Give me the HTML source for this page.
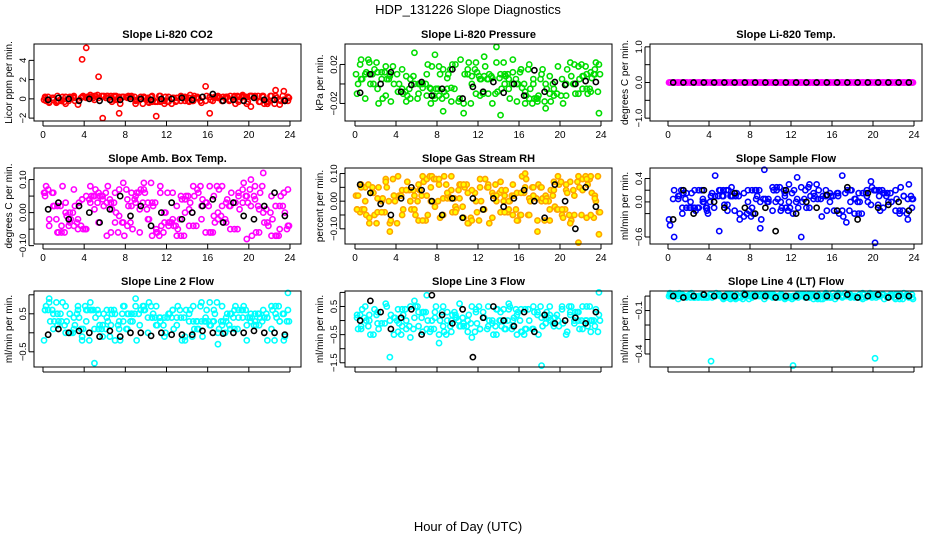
<!DOCTYPE html>
<html><head><meta charset="utf-8"><style>
body{margin:0;background:#fff}
svg{display:block;font-family:"Liberation Sans",sans-serif}
</style></head><body>
<svg id="c" width="936" height="540">
<text x="468" y="14" font-size="13" text-anchor="middle">HDP_131226  Slope Diagnostics</text>
<text x="468" y="531" font-size="13" text-anchor="middle">Hour of Day (UTC)</text>
</svg>
<script>
const hourTicks=[0,4,8,12,16,20,24];
const co2=[0.2,-0.3,0.1,0.3,-0.2,-0.5,0.2,0.3,-0.6,4.1,5.3,0.2,-0.1,2.3,-2.0,0.1,0.3,-0.1,-1.5,0.2,0.1,0.3,-0.2,-0.1,0.2,0.1,-0.3,-1.8,0.3,-0.2,0.2,0.1,-0.2,0.3,0.2,-0.3,0.1,0.2,-0.4,1.3,-1.5,0.1,0.3,-0.2,0.2,-0.1,0.3,-0.3,0.4,-0.5,-0.8,0.2,-0.3,0.2,-0.5,0.3,0.9,-0.6,0.8,-0.2];
const co2K=[-0.1,0.1,0.0,-0.2,0.0,-0.2,-0.1,-0.1,0.0,0.0,-0.1,0.0,0.0,0.1,-0.1,0.2,0.5,-0.2,-0.1,-0.2,0.1,-0.1,-0.1,-0.2];
const pres=[-0.01,0.005,-0.015,0.01,0.0,-0.005,0.012,-0.012,0.008,0.0,-0.008,0.015,-0.018,0.005,0.032,-0.01,0.0,0.01,-0.02,0.03,0.018,-0.028,0.006,-0.004,0.02,-0.015,-0.03,0.01,0.0,0.022,-0.012,0.028,0.005,-0.02,0.038,-0.032,0.01,-0.005,0.025,-0.018,0.015,-0.008,0.02,0.0,-0.015,0.01,-0.025,0.008,-0.005,0.018,0.005,-0.012,0.022,0.0,-0.01,0.008,-0.005,0.012,0.015,-0.03];
const presK=[-0.009,0.01,0.0,0.012,-0.008,-0.001,0.002,-0.012,-0.005,0.015,-0.015,-0.003,-0.008,0.002,-0.009,0.0,-0.012,0.014,-0.008,0.002,-0.001,0.0,0.003,0.002];
const temp=[0,0,0,0,0,0,0,0,0,0,0,0,0,0,0,0,0,0,0,0,0,0,0,0,0,0,0,0,0,0,0,0,0,0,0,0,0,0,0,0,0,0,0,0,0,0,0,0,0,0,0,0,0,0,0,0,0,0,0,0];
const tempK=[0,0,0,0,0,0,0,0,0,0,0,0,0,0,0,0,0,0,0,0,0,0,0,0];
const amb=[0.05,-0.04,0.06,0.02,-0.06,0.03,0.0,0.07,-0.02,0.04,-0.05,0.08,0.01,-0.03,0.05,-0.07,0.03,0.06,-0.01,0.09,-0.04,0.02,0.05,-0.06,0.07,-0.02,0.03,-0.05,0.08,0.0,-0.03,0.06,0.02,-0.07,0.04,0.01,-0.04,0.07,-0.02,0.03,-0.06,0.05,0.0,0.08,-0.03,0.02,-0.05,0.06,0.03,-0.08,0.1,0.04,-0.06,0.12,-0.03,0.05,-0.07,0.02,0.06,-0.04];
const ambK=[0.01,0.03,-0.02,0.02,0.0,-0.03,0.01,0.05,-0.01,0.02,-0.04,0.0,0.03,-0.02,0.0,0.02,0.04,-0.03,0.03,-0.01,-0.02,0.02,0.06,-0.01];
const rh=[-0.03,0.05,0.0,-0.06,0.03,0.01,-0.04,0.07,-0.11,0.02,0.09,-0.05,0.04,0.0,-0.03,0.06,-0.07,0.02,0.05,-0.02,0.08,-0.05,0.03,0.09,-0.04,0.01,0.06,-0.08,0.04,0.0,0.08,-0.03,0.05,-0.06,0.02,0.07,-0.04,0.0,0.06,-0.07,0.03,0.1,-0.05,0.02,-0.11,0.05,0.0,-0.07,0.04,0.09,-0.03,0.06,-0.08,0.02,-0.15,0.04,0.08,-0.05,0.01,-0.12];
const rhK=[0.06,0.03,-0.01,-0.05,0.01,0.05,0.04,0.0,-0.05,0.01,-0.06,0.01,-0.03,0.01,-0.02,0.01,0.04,0.0,-0.06,0.06,0.0,-0.1,0.05,-0.02];
const flow=[-0.4,-0.6,0.1,-0.2,0.15,0.0,-0.1,0.2,0.05,-0.15,0.1,0.45,-0.5,0.2,-0.05,0.25,0.1,-0.3,0.15,0.0,-0.1,0.2,-0.45,0.55,0.05,-0.15,0.25,0.0,0.1,0.3,-0.2,0.42,-0.6,0.2,-0.1,0.15,0.05,-0.25,0.2,0.0,-0.15,0.1,0.45,-0.35,0.2,0.05,-0.2,0.15,0.1,0.35,-0.7,0.2,-0.1,0.15,0.0,0.2,-0.15,0.1,0.05,-0.1];
const flowK=[-0.3,0.2,-0.2,0.2,0.0,-0.1,0.15,-0.1,-0.2,-0.1,-0.5,0.2,-0.2,0.0,-0.1,0.12,-0.15,0.25,-0.3,0.15,-0.1,-0.05,0.0,-0.15];
const line2=[0.6,0.9,0.1,0.5,0.3,0.7,0.0,0.4,0.6,-0.1,0.3,0.8,-0.8,0.5,0.2,0.4,0.6,-0.2,0.3,0.7,0.1,0.5,0.9,0.2,0.6,0.0,0.4,0.7,0.3,-0.1,0.5,0.6,0.2,0.4,-0.2,0.5,0.3,0.1,0.8,0.4,0.2,0.6,-0.3,0.7,0.3,0.5,0.1,0.4,0.6,-0.2,0.3,0.5,0.2,0.6,0.4,0.1,0.7,0.3,0.5,1.05];
const line2K=[-0.05,0.1,0.0,0.05,0.0,-0.1,0.05,-0.1,0.0,0.0,-0.08,0.0,-0.05,-0.05,-0.05,0.05,0.0,-0.02,0.0,0.0,0.05,0.0,0.0,-0.05];
const line3=[0.2,-0.3,0.5,0.0,-0.5,0.3,-0.1,0.6,-1.3,0.1,-0.4,0.4,0.0,-0.6,0.7,-0.2,0.3,0.9,-0.3,0.1,-0.8,0.5,0.0,-0.4,0.2,0.6,-0.2,0.0,-0.6,0.4,-0.3,0.1,0.5,-0.1,-0.5,0.3,0.0,0.6,-0.2,0.2,-0.4,0.4,0.0,-0.3,0.3,-1.6,0.1,0.5,-0.2,0.0,0.4,-0.5,0.2,-0.1,0.3,-0.3,0.5,0.0,-0.2,1.0];
const line3K=[0.0,0.7,0.3,-0.3,0.1,0.4,-0.5,0.9,0.2,-0.1,0.4,-1.3,0.1,0.5,0.0,-0.2,0.3,-0.4,0.2,-0.1,0.0,0.1,-0.1,0.3];
const line4=[0.02,0.0,-0.02,0.01,0.0,0.01,-0.01,0.0,0.01,-0.01,-0.45,0.0,0.01,-0.01,0.0,0.01,-0.01,0.0,0.02,0.0,-0.01,0.01,0.0,-0.02,0.01,0.0,-0.01,0.01,0.0,-0.01,-0.48,0.01,0.0,-0.01,0.0,0.01,-0.02,0.0,0.01,-0.01,0.0,0.01,-0.01,0.0,0.01,0.0,-0.01,-0.02,0.0,0.01,-0.43,0.0,0.01,-0.01,0.0,0.01,-0.02,0.02,0.0,-0.01];
const line4K=[0.0,-0.01,0.0,0.01,0.0,0.0,0.0,0.01,0.0,0.0,-0.01,0.0,0.0,-0.01,0.0,0.0,0.0,0.01,-0.01,0.0,0.01,-0.01,0.0,0.0];

const colX=[[34,301,43,290],[345,612,355,601],[650,922,668,914]];
const rowY=[[44,121],[168,244],[291,367]];
const panels=[
 {t:"Slope Li-820 CO2",yl:"Licor ppm per min.",d:co2,k:co2K,c:"#ff0000",lo:-0.5,hi:0.5,y0:-2.3,y1:5.7,ticks:[-2,0,2,4],labs:["−2","0","2","4"]},
 {t:"Slope Li-820 Pressure",yl:"kPa per min.",d:pres,k:presK,c:"#00dd00",lo:-0.022,hi:0.025,y0:-0.038,y1:0.041,ticks:[-0.02,0,0.02],labs:["−0.02","","0.02"]},
 {t:"Slope Li-820 Temp.",yl:"degrees C per min.",d:temp,k:tempK,c:"#ff00ff",lo:-1,hi:1,y0:-1.08,y1:1.08,ticks:[-1,-0.5,0,0.5,1],labs:["−1.0","","0.0","","1.0"]},
 {t:"Slope Amb. Box Temp.",yl:"degrees C per min.",d:amb,k:ambK,c:"#ff00ff",lo:-0.07,hi:0.09,y0:-0.095,y1:0.135,ticks:[-0.1,-0.05,0,0.05,0.1],labs:["−0.10","","0.00","","0.10"]},
 {t:"Slope Gas Stream RH",yl:"percent per min.",d:rh,k:rhK,c:"#ffa500",lo:-0.09,hi:0.09,y0:-0.155,y1:0.12,ticks:[-0.1,-0.05,0,0.05,0.1],labs:["−0.10","","0.00","","0.10"]},
 {t:"Slope Sample Flow",yl:"ml/min per min.",d:flow,k:flowK,c:"#0000ff",lo:-0.3,hi:0.3,y0:-0.72,y1:0.58,ticks:[-0.6,-0.2,0,0.2,0.4],labs:["−0.6","","0.0","","0.4"]},
 {t:"Slope Line 2 Flow",yl:"ml/min per min.",d:line2,k:line2K,c:"#00ffff",lo:-0.2,hi:0.8,y0:-0.9,y1:1.1,ticks:[-0.5,0,0.5,1],labs:["−0.5","","0.5",""]},
 {t:"Slope Line 3 Flow",yl:"ml/min per min.",d:line3,k:line3K,c:"#00ffff",lo:-0.5,hi:0.5,y0:-1.65,y1:1.05,ticks:[-1.5,-1,-0.5,0,0.5,1],labs:["−1.5","","−0.5","","0.5",""]},
 {t:"Slope Line 4 (LT) Flow",yl:"ml/min per min.",d:line4,k:line4K,c:"#00ffff",lo:-0.02,hi:0.02,y0:-0.49,y1:0.035,ticks:[-0.4,-0.3,-0.2,-0.1,0],labs:["−0.4","","","−0.1",""]}
];
const NS="http://www.w3.org/2000/svg";
const svg=document.getElementById('c');
function mk(tag,attrs,parent){const e=document.createElementNS(NS,tag);for(const k in attrs)e.setAttribute(k,attrs[k]);parent.appendChild(e);return e;}
panels.forEach((p,pi)=>{
 const [L,R,X0,X24]=colX[pi%3];const [T,B]=rowY[Math.floor(pi/3)];
 const xs=h=>X0+(X24-X0)*h/24;
 const ys=v=>B-(B-T)*(v-p.y0)/(p.y1-p.y0);
 const g=mk('g',{},svg);
 
 
 const t=mk('text',{x:(L+R)/2,y:T-6,'font-size':11,'font-weight':'bold','text-anchor':'middle'},g);t.textContent=p.t;
 
 
 const yl=mk('text',{transform:`translate(${L-22},${(T+B)/2}) rotate(-90)`,'font-size':10,'text-anchor':'middle'},g);yl.textContent=p.yl;
 
 
 const pts=mk('g',{fill:'none','stroke-width':1.6},g);
 
 
 const fillC=pi===4?'#ffff00':'none';
 const n=p.d.length;
 // extra density: re-plot in-core values from other indices at intermediate times
 for(let i=0;i<n;i++){
  [17,31,43].forEach((s,j)=>{
   const v=p.d[(i*7+s)%n];
   if(v<p.lo||v>p.hi)return;
   const c2=mk('circle',{cx:xs(i*0.4+0.1+j*0.1),cy:ys(v),r:2.6,stroke:p.c,fill:fillC},pts);
   
   
  });
 }
 p.d.forEach((v,i)=>{
  const c=mk('circle',{cx:xs(i*0.4+0.2),cy:ys(v),r:2.6,stroke:p.c,fill:fillC},pts);
  
  
 });
 p.k.forEach((v,i)=>{const c=mk('circle',{cx:xs(i+0.5),cy:ys(v),r:2.6,stroke:'#000'},pts);
  
  });
 const box=mk('rect',{x:L,y:T,width:R-L,height:B-T,fill:'none',stroke:'#000','stroke-width':1},g);
 
 
 hourTicks.forEach(h=>{mk('line',{x1:xs(h),x2:xs(h),y1:B,y2:B+5,stroke:'#000'},g);
  if(Math.floor(pi/3)<2){const tx=mk('text',{x:xs(h),y:B+17,'font-size':10,'text-anchor':'middle'},g);tx.textContent=h;
  
  }});
 mk('line',{x1:xs(0),x2:xs(24),y1:B+5,y2:B+5,stroke:'#000'},g);
 p.ticks.forEach((v,i)=>{mk('line',{x1:L-5,x2:L,y1:ys(v),y2:ys(v),stroke:'#000'},g);
  const tl=mk('text',{transform:`translate(${L-8},${ys(v)}) rotate(-90)`,'font-size':9.5,'text-anchor':'middle'},g);tl.textContent=p.labs[i];
  
  });
 mk('line',{x1:L-5,x2:L-5,y1:ys(p.ticks[0]),y2:ys(p.ticks[p.ticks.length-1]),stroke:'#000'},g);
});
</script>
</body></html>
